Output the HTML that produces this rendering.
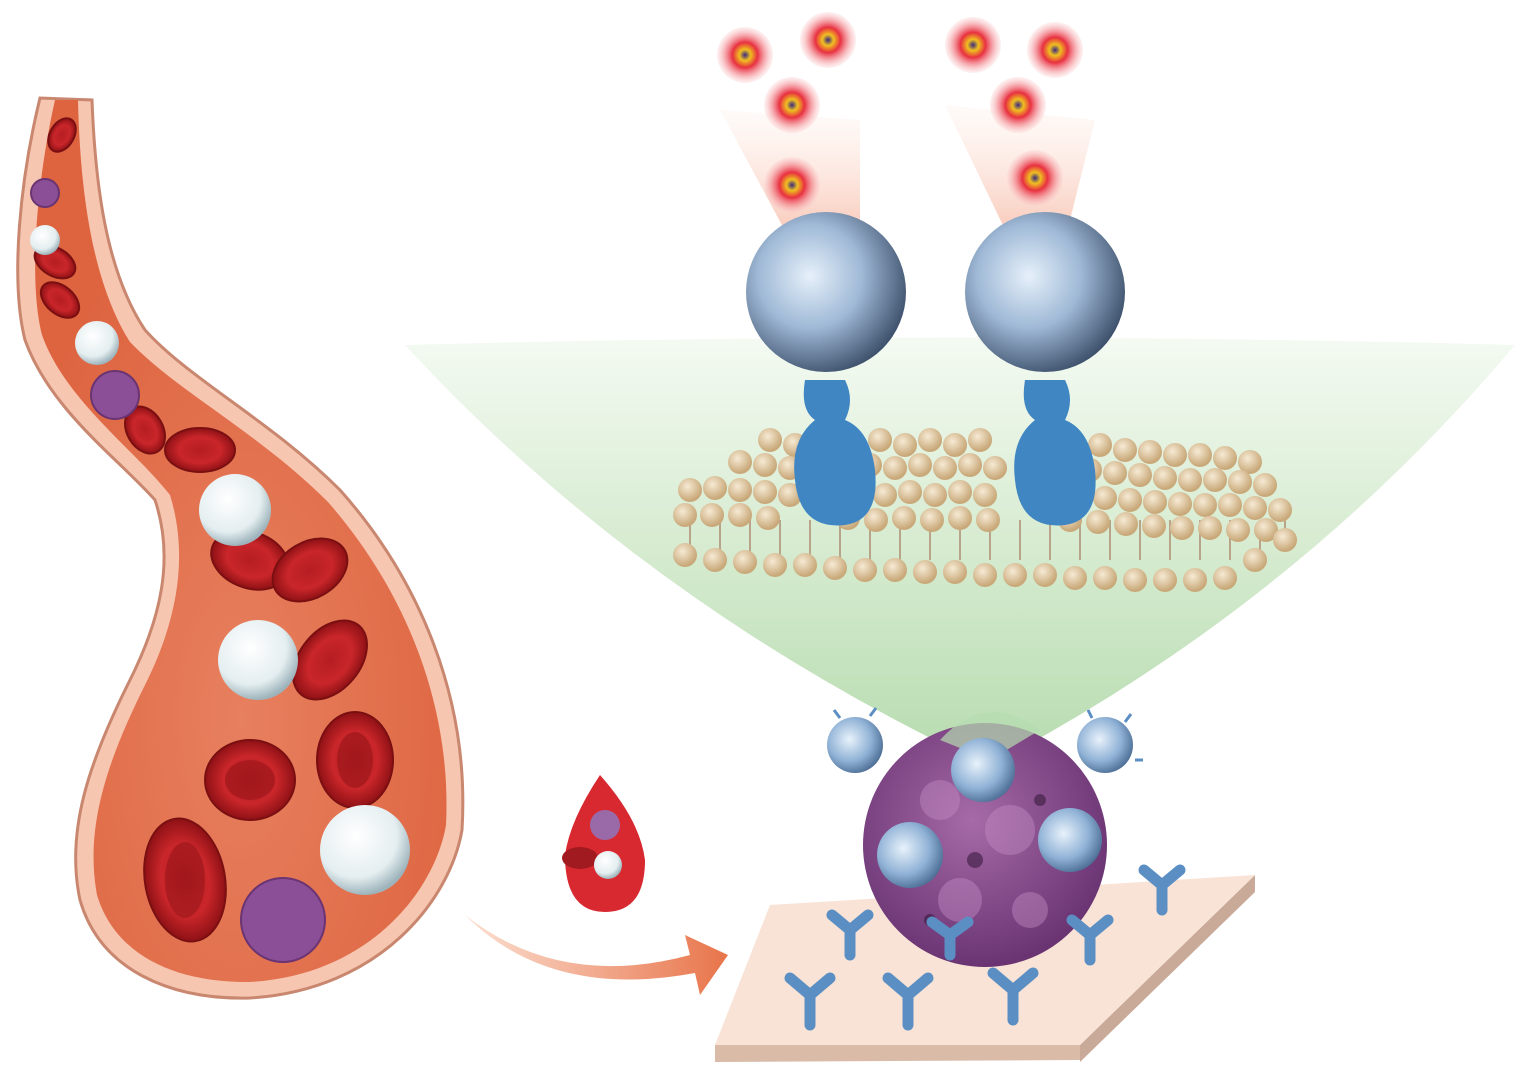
<!DOCTYPE html>
<html><head><meta charset="utf-8"><style>
html,body{margin:0;padding:0;background:#fff;width:1528px;height:1080px;overflow:hidden}
</style></head><body>
<svg width="1528" height="1080" viewBox="0 0 1528 1080" xmlns="http://www.w3.org/2000/svg">
<defs>
<linearGradient id="fan" x1="0" y1="0" x2="0" y2="1">
<stop offset="0" stop-color="#f4faf2"/><stop offset="0.5" stop-color="#d6ebd0"/><stop offset="1" stop-color="#b7dcb0"/></linearGradient>
<radialGradient id="ball" cx="0.4" cy="0.4" r="0.65">
<stop offset="0" stop-color="#e6f0fa"/><stop offset="0.5" stop-color="#9fb9d6"/><stop offset="1" stop-color="#3a4d68"/></radialGradient>
<radialGradient id="sball" cx="0.4" cy="0.4" r="0.65">
<stop offset="0" stop-color="#e8f2fb"/><stop offset="0.6" stop-color="#90b2d6"/><stop offset="1" stop-color="#4a6b92"/></radialGradient>
<radialGradient id="dot" cx="0.5" cy="0.5" r="0.5">
<stop offset="0" stop-color="#3a2a80"/><stop offset="0.2" stop-color="#f0c020"/><stop offset="0.45" stop-color="#e83040"/><stop offset="1" stop-color="#fbd0d0" stop-opacity="0.3"/></radialGradient>
<linearGradient id="beam" x1="0" y1="0" x2="0" y2="1">
<stop offset="0" stop-color="#fde3d8" stop-opacity="0.2"/><stop offset="1" stop-color="#f6b7a2"/></linearGradient>
<radialGradient id="tumor" cx="0.45" cy="0.4" r="0.6">
<stop offset="0" stop-color="#a66aa8"/><stop offset="1" stop-color="#6a3472"/></radialGradient>
<radialGradient id="rbc" cx="0.5" cy="0.5" r="0.5">
<stop offset="0" stop-color="#b51d22"/><stop offset="0.6" stop-color="#c9262a"/><stop offset="1" stop-color="#8e1115"/></radialGradient>
<radialGradient id="wbc" cx="0.4" cy="0.35" r="0.65">
<stop offset="0" stop-color="#ffffff"/><stop offset="0.7" stop-color="#e4eef0"/><stop offset="1" stop-color="#9eb4bc"/></radialGradient>
<radialGradient id="lip" cx="0.4" cy="0.35" r="0.6">
<stop offset="0" stop-color="#f6ead4"/><stop offset="1" stop-color="#c9a97a"/></radialGradient>
<linearGradient id="arrow" x1="0" y1="0" x2="1" y2="0">
<stop offset="0" stop-color="#fbe0d2"/><stop offset="1" stop-color="#e8744a"/></linearGradient>
<radialGradient id="vessel" cx="0.5" cy="0.7" r="0.6">
<stop offset="0" stop-color="#e7805f"/><stop offset="1" stop-color="#de6440"/></radialGradient>
</defs>

<path d="M405 345 Q960 330 1515 345 Q1300 600 1000 760 L975 760 Q640 600 405 345Z" fill="url(#fan)"/>

<polygon points="720,110 860,120 860,240 790,240" fill="url(#beam)" opacity="0.8"/>
<polygon points="945,105 1095,120 1065,240 1010,240" fill="url(#beam)" opacity="0.8"/>
<g>
<circle cx="745" cy="55" r="28" fill="url(#dot)"/>
<circle cx="828" cy="40" r="28" fill="url(#dot)"/>
<circle cx="792" cy="105" r="28" fill="url(#dot)"/>
<circle cx="792" cy="185" r="28" fill="url(#dot)"/>
<circle cx="973" cy="45" r="28" fill="url(#dot)"/>
<circle cx="1055" cy="50" r="28" fill="url(#dot)"/>
<circle cx="1018" cy="105" r="28" fill="url(#dot)"/>
<circle cx="1035" cy="178" r="28" fill="url(#dot)"/>
</g>

<g stroke="#b8a488" stroke-width="2">
<path d="M690 520 V560 M720 520 V560 M750 520 V560 M780 520 V560 M810 520 V560 M840 520 V560 M870 520 V560 M900 520 V560 M930 520 V560 M960 520 V560 M990 520 V560 M1020 520 V560 M1050 520 V560 M1080 520 V560 M1110 520 V560 M1140 520 V560 M1170 520 V560 M1200 520 V560 M1230 520 V560 M1260 520 V560 M1285 520 V550"/>
</g>
<g fill="url(#lip)">
<circle cx="770" cy="440" r="12"/><circle cx="795" cy="445" r="12"/><circle cx="880" cy="440" r="12"/><circle cx="905" cy="445" r="12"/><circle cx="930" cy="440" r="12"/><circle cx="955" cy="445" r="12"/><circle cx="980" cy="440" r="12"/><circle cx="1100" cy="445" r="12"/><circle cx="1125" cy="450" r="12"/><circle cx="1150" cy="452" r="12"/><circle cx="1175" cy="455" r="12"/><circle cx="1200" cy="455" r="12"/><circle cx="1225" cy="458" r="12"/><circle cx="1250" cy="462" r="12"/>
<circle cx="740" cy="462" r="12"/><circle cx="765" cy="465" r="12"/><circle cx="790" cy="468" r="12"/><circle cx="870" cy="465" r="12"/><circle cx="895" cy="468" r="12"/><circle cx="920" cy="465" r="12"/><circle cx="945" cy="468" r="12"/><circle cx="970" cy="465" r="12"/><circle cx="995" cy="468" r="12"/><circle cx="1090" cy="470" r="12"/><circle cx="1115" cy="473" r="12"/><circle cx="1140" cy="475" r="12"/><circle cx="1165" cy="478" r="12"/><circle cx="1190" cy="480" r="12"/><circle cx="1215" cy="480" r="12"/><circle cx="1240" cy="482" r="12"/><circle cx="1265" cy="485" r="12"/>
<circle cx="690" cy="490" r="12"/><circle cx="715" cy="488" r="12"/><circle cx="740" cy="490" r="12"/><circle cx="765" cy="492" r="12"/><circle cx="790" cy="495" r="12"/><circle cx="860" cy="492" r="12"/><circle cx="885" cy="495" r="12"/><circle cx="910" cy="492" r="12"/><circle cx="935" cy="495" r="12"/><circle cx="960" cy="492" r="12"/><circle cx="985" cy="495" r="12"/><circle cx="1080" cy="495" r="12"/><circle cx="1105" cy="498" r="12"/><circle cx="1130" cy="500" r="12"/><circle cx="1155" cy="502" r="12"/><circle cx="1180" cy="504" r="12"/><circle cx="1205" cy="505" r="12"/><circle cx="1230" cy="505" r="12"/><circle cx="1255" cy="508" r="12"/><circle cx="1280" cy="510" r="12"/>
<circle cx="685" cy="515" r="12"/><circle cx="712" cy="515" r="12"/><circle cx="740" cy="515" r="12"/><circle cx="768" cy="518" r="12"/><circle cx="848" cy="518" r="12"/><circle cx="876" cy="520" r="12"/><circle cx="904" cy="518" r="12"/><circle cx="932" cy="520" r="12"/><circle cx="960" cy="518" r="12"/><circle cx="988" cy="520" r="12"/><circle cx="1070" cy="520" r="12"/><circle cx="1098" cy="522" r="12"/><circle cx="1126" cy="524" r="12"/><circle cx="1154" cy="526" r="12"/><circle cx="1182" cy="528" r="12"/><circle cx="1210" cy="528" r="12"/><circle cx="1238" cy="530" r="12"/><circle cx="1266" cy="530" r="12"/>
<circle cx="685" cy="555" r="12"/><circle cx="715" cy="560" r="12"/><circle cx="745" cy="562" r="12"/><circle cx="775" cy="565" r="12"/><circle cx="805" cy="565" r="12"/><circle cx="835" cy="568" r="12"/><circle cx="865" cy="570" r="12"/><circle cx="895" cy="570" r="12"/><circle cx="925" cy="572" r="12"/><circle cx="955" cy="572" r="12"/><circle cx="985" cy="575" r="12"/><circle cx="1015" cy="575" r="12"/><circle cx="1045" cy="575" r="12"/><circle cx="1075" cy="578" r="12"/><circle cx="1105" cy="578" r="12"/><circle cx="1135" cy="580" r="12"/><circle cx="1165" cy="580" r="12"/><circle cx="1195" cy="580" r="12"/><circle cx="1225" cy="578" r="12"/><circle cx="1255" cy="560" r="12"/><circle cx="1285" cy="540" r="12"/>
</g>

<g fill="#3f86c2">
<path d="M805 380 Q800 410 815 420 Q790 440 795 480 Q800 530 845 525 Q880 520 875 470 Q870 430 845 420 Q855 400 845 380Z"/>
<path d="M1025 380 Q1020 410 1035 420 Q1010 440 1015 480 Q1020 530 1065 525 Q1100 520 1095 470 Q1090 430 1065 420 Q1075 400 1065 380Z"/>
</g>
<circle cx="826" cy="292" r="80" fill="url(#ball)"/>
<circle cx="1045" cy="292" r="80" fill="url(#ball)"/>

<!-- vessel -->
<path d="M40 98 C20 180 10 280 25 340 C50 410 120 460 155 500 C175 560 160 620 130 680 C90 760 65 830 80 900 C100 970 170 1000 250 998 C380 990 450 900 462 830 C470 700 420 580 340 490 C270 420 190 380 145 330 C105 270 95 180 92 100 Z" fill="#f6c6b0" stroke="#c98770" stroke-width="3"/>
<path d="M55 100 C37 180 28 280 42 335 C65 400 135 450 170 495 C190 560 175 625 145 685 C105 765 85 830 97 895 C115 955 175 983 250 982 C370 975 435 890 446 825 C452 705 405 590 328 502 C258 432 178 392 130 342 C92 282 80 190 78 100 Z" fill="url(#vessel)"/>
<g fill="url(#rbc)" stroke="#7a0f12" stroke-width="2">
<ellipse cx="62" cy="135" rx="18" ry="12" transform="rotate(-60 62 135)"/>
<ellipse cx="55" cy="262" rx="22" ry="14" transform="rotate(30 55 262)"/>
<ellipse cx="60" cy="300" rx="22" ry="14" transform="rotate(40 60 300)"/>
<ellipse cx="145" cy="430" rx="25" ry="18" transform="rotate(60 145 430)"/>
<ellipse cx="200" cy="450" rx="35" ry="22"/>
<ellipse cx="250" cy="560" rx="40" ry="28" transform="rotate(20 250 560)"/>
<ellipse cx="310" cy="570" rx="40" ry="28" transform="rotate(-30 310 570)"/>
<ellipse cx="330" cy="660" rx="45" ry="30" transform="rotate(-50 330 660)"/>
<ellipse cx="250" cy="780" rx="45" ry="40"/>
<ellipse cx="355" cy="760" rx="38" ry="48"/>
<ellipse cx="185" cy="880" rx="40" ry="62" transform="rotate(-10 185 880)"/>
</g>
<g fill="#8f1317" opacity="0.5">
<ellipse cx="250" cy="780" rx="25" ry="20"/><ellipse cx="355" cy="760" rx="18" ry="28"/><ellipse cx="185" cy="880" rx="20" ry="38"/>
</g>
<g fill="url(#wbc)">
<circle cx="45" cy="240" r="15"/><circle cx="97" cy="343" r="22"/><circle cx="235" cy="510" r="36"/><circle cx="258" cy="660" r="40"/><circle cx="365" cy="850" r="45"/><circle cx="615" cy="868" r="14"/>
</g>
<g fill="#8a4f96" stroke="#6a3472" stroke-width="2">
<circle cx="45" cy="193" r="14"/><circle cx="115" cy="395" r="24"/><circle cx="283" cy="920" r="42"/>
</g>

<path d="M465 915 Q560 990 690 955 L685 935 L728 955 L700 995 L695 973 Q550 1000 465 915Z" fill="url(#arrow)"/>

<path d="M600 775 Q570 820 565 855 Q565 912 605 912 Q645 912 645 860 Q640 820 600 775Z" fill="#d92930"/>
<circle cx="605" cy="825" r="15" fill="#9a6aa8"/>
<ellipse cx="580" cy="858" rx="18" ry="11" fill="#a11a20"/>
<circle cx="608" cy="865" r="14" fill="url(#wbc)"/>

<polygon points="715,1045 1080,1045 1080,1060 715,1062" fill="#d9bba8"/>
<polygon points="1080,1045 1255,875 1255,892 1080,1062" fill="#c9a998"/>
<polygon points="770,905 1255,875 1080,1045 715,1045" fill="#f8e3d6"/>

<circle cx="985" cy="845" r="122" fill="url(#tumor)"/>
<g fill="#c28bc4" opacity="0.45">
<circle cx="940" cy="800" r="20"/><circle cx="1010" cy="830" r="25"/><circle cx="960" cy="900" r="22"/><circle cx="1030" cy="910" r="18"/><circle cx="900" cy="860" r="18"/>
</g>
<g fill="#3a1a40" opacity="0.6">
<circle cx="975" cy="860" r="8"/><circle cx="1040" cy="800" r="6"/><circle cx="930" cy="920" r="6"/>
</g>
<path d="M940 740 Q985 690 1040 730 L990 760Z" fill="#b7dcb0" opacity="0.7"/>

<g stroke="#5b8fc4" stroke-width="11" fill="none" stroke-linecap="round">
<path d="M810 1025 V995 M810 995 L790 978 M810 995 L830 978"/>
<path d="M908 1025 V995 M908 995 L888 978 M908 995 L928 978"/>
<path d="M1013 1020 V990 M1013 990 L993 973 M1013 990 L1033 973"/>
<path d="M850 955 V930 M850 930 L832 915 M850 930 L868 915"/>
<path d="M950 955 V935 M950 935 L932 922 M950 935 L968 922"/>
<path d="M1090 960 V935 M1090 935 L1072 920 M1090 935 L1108 920"/>
<path d="M1162 910 V885 M1162 885 L1144 870 M1162 885 L1180 870"/>
</g>

<g fill="url(#sball)">
<circle cx="855" cy="745" r="28"/><circle cx="1105" cy="745" r="28"/><circle cx="983" cy="770" r="32"/><circle cx="910" cy="855" r="33"/><circle cx="1070" cy="840" r="32"/>
</g>
<g stroke="#5b8fc4" stroke-width="3">
<path d="M840 718 l-6 -8 M870 716 l6 -8 M1092 718 l-4 -8 M1125 722 l6 -8 M1135 760 l8 0"/>
</g>
</svg>
</body></html>
